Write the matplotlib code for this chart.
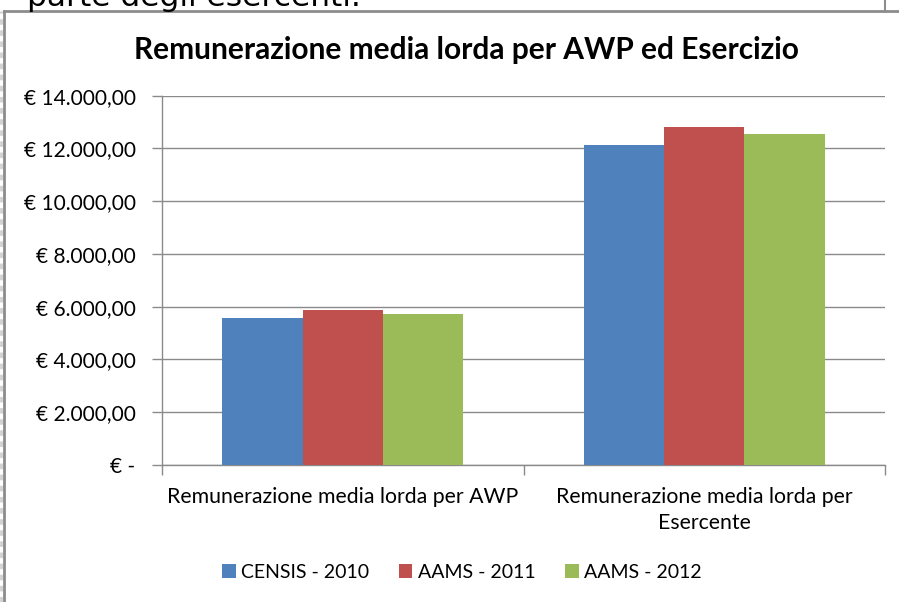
import matplotlib
matplotlib.use("Agg")
from matplotlib import pyplot as plt
from matplotlib.lines import Line2D
import numpy as np

categories = ["Remunerazione media lorda per AWP", "Remunerazione media lorda per\nEsercente"]
series_names = ["CENSIS - 2010", "AAMS - 2011", "AAMS - 2012"]
censis_2010 = [5560, 12150]
aams_2011 = [5860, 12820]
aams_2012 = [5740, 12560]
y_ticks = [0, 2000, 4000, 6000, 8000, 10000, 12000, 14000]

colors = ["#4F81BD", "#C0504D", "#9BBB59"]
W, H = 899, 602


def euro(v, pos=None):
    if v == 0:
        return "€ -"
    s = f"{v:,.2f}".replace(",", "X").replace(".", ",").replace("X", ".")
    return "€ " + s


plt.rcParams['font.family'] = ['Lato', 'DejaVu Sans']

fig = plt.figure(figsize=(W / 100, H / 100), dpi=100)
fig.patch.set_facecolor('white')

# page text cut off at the top and the chart frame
fig.text(27 / W, 1 - 6.5 / H, "parte degli esercenti.", family='DejaVu Sans',
         fontsize=22.5, va='baseline', ha='left', color='black')
fig.add_artist(Line2D([4 / W, 4 / W], [0, 1 - 11 / H], transform=fig.transFigure,
                      color='#8c8c8c', lw=2))
fig.add_artist(Line2D([4 / W, 1], [1 - 11 / H, 1 - 11 / H], transform=fig.transFigure,
                      color='#8c8c8c', lw=2))
fig.add_artist(Line2D([885 / W, 885 / W], [1, 1 - 11 / H], transform=fig.transFigure,
                      color='#8c8c8c', lw=1.5))
fig.add_artist(Line2D([1 / W, 1 / W], [0, 1 - 11 / H], transform=fig.transFigure,
                      color='#d0d0d0', lw=2, linestyle=(0, (2, 2))))

left, right, bottom, top = 162 / W, 885 / W, 1 - 465 / H, 1 - 95.7 / H
ax = fig.add_axes([left, bottom, right - left, top - bottom])

x = np.arange(len(categories))
bw = 1 / 4.5
for i, (vals, name) in enumerate(zip([censis_2010, aams_2011, aams_2012], series_names)):
    ax.bar(x + (i - 1) * bw, vals, bw, color=colors[i], label=name, zorder=3)

ax.set_xlim(-0.5, 1.5)
ax.set_ylim(0, 14000)
ax.set_yticks(y_ticks)
ax.yaxis.set_major_formatter(plt.FuncFormatter(euro))
ax.grid(True, axis='y', color='#8a8a8a', lw=1, zorder=0)
ax.set_axisbelow(True)

ax.set_xticks([-0.5, 0.5, 1.5])
ax.set_xticklabels([])
ax.set_xticks(x, minor=True)
ax.set_xticklabels(categories, minor=True, fontsize=15.3, linespacing=1.35)
ax.tick_params(axis='x', which='minor', length=0, pad=16)
ax.tick_params(axis='x', which='major', length=7, color='#8a8a8a', width=1)
ax.tick_params(axis='y', length=7, color='#8a8a8a', width=1, labelsize=15, pad=12)
for lab in ax.get_xticklabels(minor=True):
    lab.set_va('top')
    lab.set_ha('center')

for s in ['top', 'right']:
    ax.spines[s].set_visible(False)
for s in ['left', 'bottom']:
    ax.spines[s].set_color('#8a8a8a')
    ax.spines[s].set_linewidth(1)

fig.text(466 / W, 1 - 50 / H, "Remunerazione media lorda per AWP ed Esercizio",
         fontsize=21.5, fontweight='bold', ha='center', va='center')

fig.legend(loc='center', bbox_to_anchor=(462 / W, 1 - 572 / H), ncol=3,
           frameon=False, fontsize=14, handlelength=0.7, handleheight=0.7,
           handletextpad=0.3, columnspacing=1.5)

fig.savefig("out.png", dpi=100)
